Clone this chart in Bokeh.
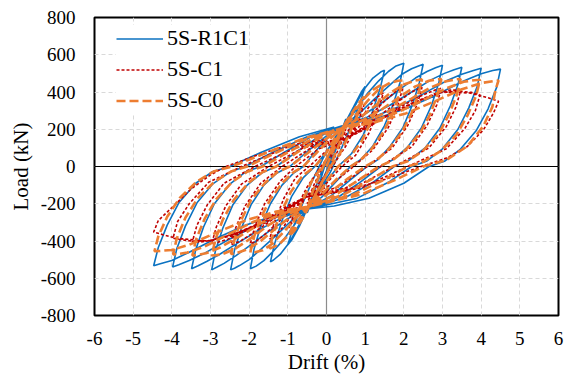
from bokeh.plotting import figure
from bokeh.models import Range1d, FixedTicker, Span, Legend, LegendItem
from bokeh.embed import file_html
from bokeh.resources import INLINE

# ---------------- data (drift %, load kN) ----------------
x_ticks = [-6, -5, -4, -3, -2, -1, 0, 1, 2, 3, 4, 5, 6]
x_tick_labels = ["-6", "-5", "-4", "-3", "-2", "-1", "0", "1", "2", "3", "4", "5", "6"]
y_ticks = [-800, -600, -400, -200, 0, 200, 400, 600, 800]
y_tick_labels = ["-800", "-600", "-400", "-200", "0", "200", "400", "600", "800"]
series_names = ["5S-R1C1", "5S-C1", "5S-C0"]

r1c1_pts = [
    (0, 0), (0.12, 70), (0.25, 140), (0.15, 70), (0.05, 0), (-0.1, -70), (-0.25, -140), (-0.15, -70), (-0.05, 0),
    # 0.5 %
    (0.2, 110), (0.4, 200), (0.5, 255), (0.35, 150), (0.15, 40), (0, -40), (-0.2, -120), (-0.4, -200), (-0.5, -250),
    (-0.35, -150), (-0.15, -40), (0, 40), (0.2, 120),
    # 1.0 %
    (0.45, 222), (0.7, 320), (0.9, 400), (1.0, 430), (0.85, 330), (0.6, 200), (0.35, 80), (0.1, -30), (-0.2, -130),
    (-0.5, -228), (-0.7, -320), (-0.9, -395), (-1.0, -420), (-0.85, -320), (-0.6, -190), (-0.35, -70), (-0.1, 40),
    (0.2, 150), (0.45, 222),
    # 1.5 %
    (0.7, 310), (0.95, 410), (1.2, 475), (1.4, 507), (1.5, 517), (1.4, 430), (1.2, 300), (0.95, 170), (0.65, 70),
    (0.3, 0), (0, -80), (-0.25, -160), (-0.5, -228), (-0.7, -310), (-0.95, -405), (-1.2, -472), (-1.37, -502),
    (-1.45, -512), (-1.35, -420), (-1.15, -290), (-0.9, -160), (-0.6, -60), (-0.3, 0), (0, 80), (0.25, 160), (0.45, 222),
    # 2.0 %
    (0.75, 300), (1.05, 390), (1.35, 460), (1.6, 510), (1.8, 540), (2.0, 555), (1.9, 450), (1.72, 330), (1.5, 220),
    (1.2, 110), (0.9, 40), (0.62, 0), (0.25, -80), (-0.1, -160), (-0.5, -228), (-0.8, -305), (-1.1, -390), (-1.4, -460),
    (-1.62, -505), (-1.82, -535), (-1.97, -549), (-1.87, -440), (-1.7, -320), (-1.45, -200), (-1.15, -100),
    (-0.85, -35), (-0.6, 0), (-0.25, 90), (0.1, 170), (0.45, 222),
    # 2.5 %
    (0.85, 285), (1.25, 365), (1.65, 440), (1.95, 495), (2.2, 525), (2.38, 540), (2.5, 549), (2.4, 450), (2.22, 330),
    (1.98, 210), (1.65, 110), (1.35, 40), (1.05, 0), (0.6, -75), (0.1, -160), (-0.5, -228), (-0.9, -290), (-1.3, -370),
    (-1.7, -445), (-2.0, -500), (-2.25, -532), (-2.38, -546), (-2.48, -555), (-2.38, -450), (-2.2, -330),
    (-1.95, -205), (-1.62, -100), (-1.28, -35), (-0.95, 0), (-0.5, 80), (0.0, 165), (0.45, 222),
    # 3.0 %
    (0.95, 275), (1.45, 345), (1.9, 415), (2.3, 475), (2.6, 510), (2.82, 530), (3.0, 544), (2.9, 445), (2.72, 330),
    (2.45, 205), (2.1, 105), (1.75, 40), (1.4, 0), (0.9, -80), (0.3, -165), (-0.5, -228), (-1.0, -280), (-1.5, -350),
    (-1.95, -420), (-2.35, -480), (-2.65, -520), (-2.83, -540), (-2.97, -555), (-2.87, -450), (-2.68, -330),
    (-2.42, -205), (-2.05, -100), (-1.68, -35), (-1.3, 0), (-0.8, 75), (-0.2, 160), (0.45, 222),
    # 3.5 %
    (1.05, 265), (1.65, 330), (2.2, 400), (2.7, 465), (3.05, 500), (3.3, 520), (3.5, 533), (3.4, 440), (3.2, 325),
    (2.93, 205), (2.55, 100), (2.15, 35), (1.75, 0), (1.2, -85), (0.5, -165), (-0.5, -228), (-1.1, -270), (-1.7, -335),
    (-2.25, -405), (-2.75, -470), (-3.1, -510), (-3.32, -533), (-3.49, -549), (-3.38, -445), (-3.18, -325),
    (-2.9, -200), (-2.5, -95), (-2.1, -30), (-1.7, 0), (-1.1, 75), (-0.4, 160), (0.45, 222),
    # 4.0 %
    (1.15, 260), (1.85, 320), (2.5, 390), (3.1, 460), (3.5, 495), (3.8, 515), (4.0, 528), (3.9, 430), (3.68, 315),
    (3.4, 200), (3.0, 95), (2.6, 30), (2.2, 0), (1.6, -85), (0.8, -170), (-0.5, -228), (-1.2, -265), (-1.9, -325),
    (-2.55, -395), (-3.15, -465), (-3.55, -505), (-3.82, -527), (-3.98, -539), (-3.87, -440), (-3.65, -320),
    (-3.35, -195), (-2.95, -95), (-2.5, -30), (-2.1, 0), (-1.4, 75), (-0.5, 160), (0.45, 222),
    # 4.5 %
    (1.25, 255), (2.05, 310), (2.8, 380), (3.5, 455), (4.0, 498), (4.3, 515), (4.5, 523), (4.4, 425), (4.18, 310),
    (3.88, 195), (3.45, 90), (3.05, 28), (2.65, 0), (2.0, -90), (1.1, -170), (0.2, -212), (-0.5, -228), (-1.3, -260),
    (-2.1, -315), (-2.85, -385), (-3.55, -460), (-4.0, -505), (-4.3, -522), (-4.47, -533), (-4.35, -435),
    (-4.12, -315), (-3.82, -195), (-3.38, -90), (-2.95, -28), (-2.5, 0), (-1.7, 75), (-0.7, 160), (0.2, 212),
]

c1_pts = [
    (0, 0), (0.25, 110), (0.5, 200), (0.35, 110), (0.1, 0), (-0.2, -100), (-0.5, -200), (-0.35, -110), (-0.1, 0),
    (0.2, 100),
    # 1.0 %
    (0.5, 170), (0.75, 260), (0.97, 330), (0.8, 230), (0.5, 110), (0.15, 0), (-0.2, -90), (-0.55, -165), (-0.75, -250),
    (-0.97, -330), (-0.8, -230), (-0.5, -110), (-0.15, 0), (0.2, 90), (0.5, 150),
    # 1.5 %
    (0.8, 230), (1.1, 320), (1.3, 370), (1.47, 395), (1.35, 310), (1.1, 180), (0.75, 60), (0.4, 0), (0, -90),
    (-0.55, -165), (-0.85, -245), (-1.1, -320), (-1.3, -365), (-1.47, -390), (-1.35, -300), (-1.1, -170), (-0.8, -60),
    (-0.45, 0), (0, 85), (0.5, 150),
    # 2.0 %
    (0.85, 215), (1.2, 290), (1.55, 360), (1.8, 405), (1.97, 420), (1.85, 330), (1.6, 210), (1.2, 90), (0.7, 0),
    (0.1, -100), (-0.55, -165), (-0.9, -225), (-1.25, -300), (-1.6, -365), (-1.82, -402), (-1.97, -415), (-1.85, -320),
    (-1.6, -200), (-1.2, -80), (-0.8, 0), (-0.2, 95), (0.5, 150),
    # 2.5 %
    (0.9, 205), (1.35, 270), (1.8, 340), (2.2, 400), (2.47, 425), (2.35, 335), (2.1, 220), (1.7, 100), (1.05, 0),
    (0.3, -110), (-0.55, -165), (-0.95, -220), (-1.4, -285), (-1.85, -350), (-2.22, -400), (-2.47, -420),
    (-2.35, -330), (-2.1, -210), (-1.7, -90), (-1.15, 0), (-0.4, 100), (0.5, 150),
    # 3.0 %
    (1.0, 200), (1.5, 265), (2.0, 330), (2.5, 385), (2.8, 410), (2.97, 420), (2.85, 330), (2.6, 220), (2.2, 105),
    (1.4, 0), (0.5, -115), (-0.55, -165), (-1.05, -215), (-1.55, -280), (-2.05, -340), (-2.55, -390), (-2.82, -408),
    (-2.97, -415), (-2.85, -325), (-2.6, -210), (-2.2, -95), (-1.5, 0), (-0.6, 100), (0.5, 150),
    # 3.5 %
    (1.05, 210), (1.6, 275), (2.2, 340), (2.8, 390), (3.2, 410), (3.47, 410), (3.35, 320), (3.1, 215), (2.65, 100),
    (1.75, 0), (0.7, -115), (-0.55, -165), (-1.1, -230), (-1.7, -300), (-2.3, -355), (-2.9, -395), (-3.25, -405),
    (-3.47, -405), (-3.35, -315), (-3.08, -205), (-2.65, -90), (-1.85, 0), (-0.8, 100), (0.5, 150),
    # 4.0 %
    (1.1, 220), (1.7, 285), (2.3, 345), (2.9, 395), (3.4, 405), (3.75, 398), (3.97, 385), (3.85, 300), (3.58, 205),
    (3.1, 95), (2.1, 0), (0.9, -115), (-0.55, -165), (-1.1, -235), (-1.7, -305), (-2.35, -360), (-3.0, -398),
    (-3.5, -400), (-3.8, -392), (-3.97, -385), (-3.85, -295), (-3.55, -200), (-3.05, -85), (-2.2, 0), (-1.0, 105),
    (0.5, 150),
    # 4.5 %
    (1.1, 225), (1.7, 290), (2.3, 345), (3.0, 400), (3.7, 395), (4.2, 368), (4.45, 350), (4.32, 288), (4.06, 197),
    (3.64, 107), (3.1, 45), (2.45, 0), (1.5, -70), (0.5, -130), (-0.55, -165), (-1.1, -245), (-1.7, -315),
    (-2.4, -370), (-3.1, -400), (-3.9, -385), (-4.3, -362), (-4.47, -352), (-4.35, -290), (-3.96, -213),
    (-3.5, -120), (-3.0, -45), (-2.6, 0), (-1.8, 60), (-1.0, 115), (0.0, 145),
]

c0_pts = [
    (0, 0), (0.2, 100), (0.4, 190), (0.5, 230), (0.35, 130), (0.15, 30), (0, -40), (-0.2, -115), (-0.4, -195),
    (-0.5, -230), (-0.35, -130), (-0.15, -30), (0, 40), (0.2, 120),
    # 1.0 %
    (0.4, 205), (0.65, 285), (0.85, 345), (0.97, 375), (0.83, 290), (0.6, 180), (0.35, 70), (0.1, 0), (-0.15, -100),
    (-0.45, -215), (-0.65, -290), (-0.85, -350), (-0.97, -375), (-0.83, -285), (-0.6, -175), (-0.35, -65), (-0.1, 0),
    (0.15, 100), (0.4, 205),
    # 1.5 %
    (0.65, 275), (0.95, 360), (1.2, 412), (1.37, 433), (1.47, 440), (1.37, 360), (1.17, 250), (0.92, 140), (0.62, 55),
    (0.3, 0), (0, -80), (-0.2, -150), (-0.45, -215), (-0.7, -285), (-0.97, -365), (-1.22, -417), (-1.38, -433),
    (-1.47, -440), (-1.37, -355), (-1.17, -245), (-0.92, -135), (-0.62, -50), (-0.3, 0), (0, 75), (0.2, 145),
    (0.4, 205),
    # 2.0 %
    (0.75, 275), (1.05, 350), (1.35, 415), (1.65, 450), (1.85, 460), (1.97, 462), (1.87, 380), (1.7, 280),
    (1.47, 185), (1.17, 95), (0.88, 35), (0.62, 0), (0.25, -70), (-0.1, -145), (-0.45, -215), (-0.8, -280),
    (-1.1, -350), (-1.4, -415), (-1.65, -450), (-1.85, -460), (-1.97, -462), (-1.87, -375), (-1.7, -275),
    (-1.45, -175), (-1.15, -90), (-0.85, -30), (-0.6, 0), (-0.25, 75), (0.1, 150), (0.4, 205),
    # 2.5 %
    (0.85, 260), (1.25, 325), (1.65, 395), (2.0, 440), (2.3, 462), (2.47, 468), (2.37, 385), (2.2, 285), (1.95, 185),
    (1.62, 95), (1.3, 35), (1.0, 0), (0.55, -65), (0.05, -145), (-0.45, -215), (-0.9, -265), (-1.3, -330),
    (-1.7, -400), (-2.05, -445), (-2.32, -465), (-2.47, -470), (-2.37, -385), (-2.2, -285), (-1.95, -180),
    (-1.6, -90), (-1.27, -30), (-0.95, 0), (-0.5, 70), (0.0, 150), (0.4, 205),
    # 3.0 %
    (0.95, 250), (1.45, 310), (1.9, 375), (2.3, 430), (2.65, 460), (2.85, 468), (2.97, 470), (2.87, 385),
    (2.68, 280), (2.42, 180), (2.05, 90), (1.7, 32), (1.35, 0), (0.85, -70), (0.25, -150), (-0.45, -215),
    (-1.0, -255), (-1.5, -315), (-1.95, -385), (-2.35, -440), (-2.68, -470), (-2.85, -476), (-2.97, -478),
    (-2.87, -390), (-2.68, -285), (-2.4, -180), (-2.02, -88), (-1.65, -30), (-1.3, 0), (-0.8, 70), (-0.2, 150),
    (0.4, 205),
    # 3.5 %
    (1.05, 245), (1.65, 300), (2.2, 365), (2.7, 425), (3.1, 458), (3.35, 468), (3.47, 470), (3.37, 385),
    (3.17, 280), (2.9, 175), (2.5, 85), (2.1, 28), (1.7, 0), (1.15, -70), (0.45, -150), (-0.45, -215),
    (-1.1, -250), (-1.7, -305), (-2.25, -375), (-2.75, -435), (-3.12, -466), (-3.36, -476), (-3.47, -478),
    (-3.37, -390), (-3.15, -280), (-2.85, -175), (-2.45, -85), (-2.05, -28), (-1.65, 0), (-1.05, 70), (-0.35, 150),
    (0.4, 205),
    # 4.0 %
    (1.15, 240), (1.85, 292), (2.5, 355), (3.1, 420), (3.55, 455), (3.82, 463), (3.97, 466), (3.87, 380),
    (3.65, 275), (3.36, 170), (2.95, 82), (2.5, 25), (2.1, 0), (1.5, -70), (0.7, -150), (-0.45, -215),
    (-1.2, -245), (-1.9, -298), (-2.55, -365), (-3.15, -430), (-3.6, -462), (-3.85, -470), (-3.97, -472),
    (-3.87, -385), (-3.65, -275), (-3.33, -170), (-2.9, -82), (-2.45, -25), (-2.05, 0), (-1.35, 70), (-0.5, 150),
    (0.4, 205),
    # 4.5 %
    (1.25, 237), (2.05, 285), (2.8, 350), (3.5, 415), (4.0, 448), (4.3, 458), (4.45, 462), (4.37, 411),
    (4.29, 320), (4.05, 215), (3.65, 110), (3.1, 35), (2.5, 0), (1.8, -70), (0.9, -150), (-0.45, -215),
    (-1.3, -242), (-2.1, -290), (-2.85, -355), (-3.55, -420), (-4.0, -448), (-4.3, -453), (-4.45, -455),
    (-4.35, -375), (-4.12, -270), (-3.8, -170), (-3.35, -80), (-2.9, -25), (-2.45, 0), (-1.6, 70), (-0.6, 150),
    (0.2, 195),
]

r1c1_drift = [pt[0] for pt in r1c1_pts]
r1c1_load = [pt[1] for pt in r1c1_pts]
c1_drift = [pt[0] for pt in c1_pts]
c1_load = [pt[1] for pt in c1_pts]
c0_drift = [pt[0] for pt in c0_pts]
c0_load = [pt[1] for pt in c0_pts]

# ---------------- figure ----------------
SERIF = "Liberation Serif"

p = figure(width=565, height=376, output_backend="svg", toolbar_location=None,
           x_range=Range1d(-6, 6), y_range=Range1d(-800, 800),
           min_border_left=94, min_border_right=7, min_border_top=17, min_border_bottom=59)
p.background_fill_color = "white"
p.border_fill_color = "white"
p.outline_line_color = "black"
p.outline_line_width = 2

for ax in (p.xaxis[0], p.yaxis[0]):
    ax.axis_line_color = None
    ax.major_tick_line_color = None
    ax.minor_tick_line_color = None
    ax.major_tick_in = 0
    ax.major_tick_out = 0
    ax.major_label_text_font = SERIF
    ax.major_label_text_font_size = "19px"
    ax.major_label_text_color = "black"
    ax.axis_label_text_font = SERIF
    ax.axis_label_text_font_size = "21px"
    ax.axis_label_text_font_style = "normal"
    ax.axis_label_text_color = "black"

p.xaxis.ticker = FixedTicker(ticks=x_ticks)
p.yaxis.ticker = FixedTicker(ticks=y_ticks)
p.xaxis.major_label_overrides = {t: s for t, s in zip(x_ticks, x_tick_labels)}
p.yaxis.major_label_overrides = {t: s for t, s in zip(y_ticks, y_tick_labels)}
p.xaxis.axis_label = "Drift (%)"
p.yaxis.axis_label = "Load (kN)"
p.xaxis.major_label_standoff = 16
p.xaxis.axis_label_standoff = 2
p.yaxis.major_label_standoff = 19
p.yaxis.axis_label_standoff = 5

p.xgrid.grid_line_color = "#d9d9d9"
p.ygrid.grid_line_color = "#d9d9d9"
p.xgrid.grid_line_dash = "4 3"
p.ygrid.grid_line_dash = "4 3"
p.xgrid.grid_line_width = 1
p.ygrid.grid_line_width = 1

p.add_layout(Span(location=0, dimension="width", line_color="black", line_width=1.2, level="underlay"))
p.add_layout(Span(location=0, dimension="height", line_color="#8c8c8c", line_width=1.2, level="underlay"))

r_blue = p.line(r1c1_drift, r1c1_load, line_color="#0b72c1", line_width=1.6)
r_red = p.line(c1_drift, c1_load, line_color="#c00000", line_width=1.6, line_dash="3 2")
r_orange = p.line(c0_drift, c0_load, line_color="#ed7d31", line_width=2.6, line_dash="9 4")

legend = Legend(items=[LegendItem(label=series_names[0], renderers=[r_blue]),
                       LegendItem(label=series_names[1], renderers=[r_red]),
                       LegendItem(label=series_names[2], renderers=[r_orange])],
                location=(22, 202))
legend.background_fill_color = "white"
legend.background_fill_alpha = 1.0
legend.border_line_color = None
legend.label_text_font = SERIF
legend.label_text_font_size = "22px"
legend.label_text_color = "black"
legend.glyph_width = 47
legend.glyph_height = 21
legend.label_height = 21
legend.label_standoff = 4
legend.spacing = 5
legend.padding = 2
legend.margin = 0
p.add_layout(legend)

open("out.html", "w").write(file_html(p, INLINE))
